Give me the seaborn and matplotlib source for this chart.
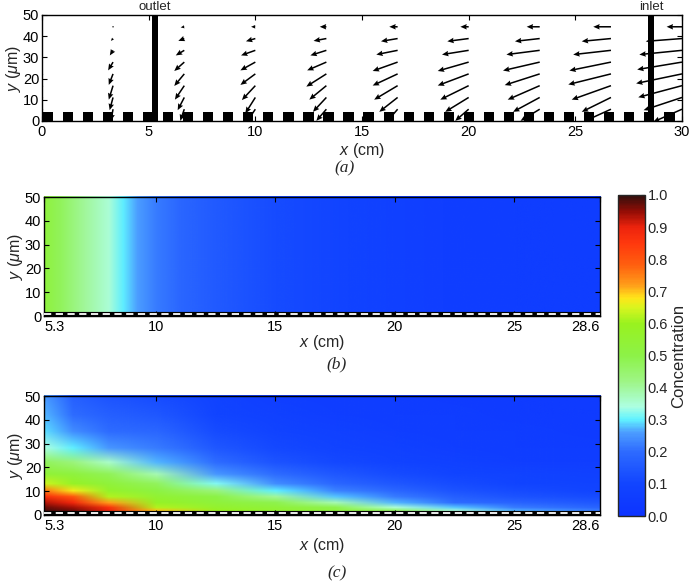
import numpy as np
import matplotlib
matplotlib.use('Agg')
import matplotlib.pyplot as plt
import seaborn as sns
from matplotlib.colors import LinearSegmentedColormap, Normalize
from matplotlib.image import NonUniformImage

# ---------------- data ----------------
# (a) velocity field: arrow tails on a grid, displacement per column (bottom row -> top row)
quiver_x = [0.0, 3.33, 6.67, 10.0, 13.33, 16.67, 20.0, 23.33, 26.67, 30.0]
quiver_y = [5.56, 11.11, 16.67, 22.22, 27.78, 33.33, 38.89, 44.44]
quiver_dx = [
    [-0.03, -0.03, -0.03, -0.03, -0.03, -0.03, -0.03, -0.03],
    [-0.10, -0.16, -0.20, -0.20, -0.23, -0.15, -0.10, -0.05],
    [-0.19, -0.31, -0.44, -0.47, -0.47, -0.40, -0.28, -0.17],
    [-0.40, -0.47, -0.63, -0.70, -0.70, -0.67, -0.44, -0.20],
    [-0.47, -0.63, -0.80, -0.94, -0.90, -0.75, -0.60, -0.31],
    [-0.47, -0.86, -1.10, -1.17, -1.17, -1.00, -0.78, -0.39],
    [-0.63, -1.10, -1.33, -1.45, -1.45, -1.25, -1.00, -0.39],
    [-0.90, -1.25, -1.50, -1.64, -1.72, -1.56, -1.16, -0.61],
    [-1.20, -1.37, -1.84, -2.00, -1.95, -1.77, -1.37, -0.83],
    [-1.35, -1.80, -2.05, -2.15, -2.10, -2.00, -1.70, -0.72],
]
quiver_dy = [
    [-1.5, -1.5, -1.5, -1.5, -1.2, -1.0, -0.6, -0.3],
    [-5.5, -6.0, -6.6, -5.2, -3.9, -2.4, -1.1, -0.3],
    [-5.5, -6.0, -6.6, -5.7, -4.2, -2.4, -1.1, -0.3],
    [-6.0, -7.5, -6.8, -5.2, -3.9, -2.4, -1.3, 0.0],
    [-5.5, -6.8, -6.6, -6.0, -3.9, -2.4, -1.1, 0.0],
    [-5.5, -6.8, -6.6, -5.5, -4.2, -2.0, -1.3, 0.0],
    [-5.5, -6.8, -6.6, -5.5, -4.2, -2.0, -1.3, 0.0],
    [-5.5, -6.8, -6.6, -5.3, -4.0, -2.0, -1.3, 0.0],
    [-5.5, -6.8, -6.6, -5.0, -4.0, -2.0, -1.3, 0.0],
    [-6.0, -6.0, -5.5, -4.5, -3.5, -2.0, -1.3, 0.0],
]
pore_start, pore_pitch, pore_count = 0.03, 0.94, 32
pore_width, pore_height = 0.48, 4.3
port_x = [5.3, 28.55]
port_names = ['outlet', 'inlet']

# (b) concentration profile along x (uniform in y)
b_x = [5.3, 6.0, 7.0, 8.0, 8.6, 9.2, 10.0, 11.0, 12.5, 15.0, 18.0, 22.0, 25.0, 28.6]
b_c = [0.52, 0.47, 0.40, 0.35, 0.30, 0.26, 0.22, 0.19, 0.16, 0.12, 0.09, 0.07, 0.06, 0.06]

# (c) concentration field: profiles c(y) at each x node
c_x = [5.3, 6.5, 8.0, 10.0, 12.5, 15.0, 17.5, 20.0, 22.5, 25.0, 28.6]
c_y = [0, 1.5, 3, 5, 7.5, 10, 13, 17, 22, 28, 35, 42, 50]
c_profiles = [
    [1.00, 0.99, 0.97, 0.93, 0.87, 0.76, 0.64, 0.54, 0.47, 0.34, 0.29, 0.27, 0.25],
    [0.99, 0.97, 0.94, 0.89, 0.80, 0.67, 0.58, 0.52, 0.43, 0.30, 0.24, 0.20, 0.17],
    [0.93, 0.90, 0.86, 0.72, 0.62, 0.57, 0.53, 0.48, 0.36, 0.25, 0.20, 0.17, 0.14],
    [0.80, 0.70, 0.62, 0.58, 0.55, 0.51, 0.47, 0.38, 0.27, 0.22, 0.19, 0.15, 0.12],
    [0.62, 0.59, 0.56, 0.53, 0.50, 0.43, 0.32, 0.25, 0.20, 0.15, 0.12, 0.10, 0.09],
    [0.58, 0.55, 0.53, 0.49, 0.40, 0.30, 0.24, 0.20, 0.14, 0.11, 0.09, 0.08, 0.07],
    [0.55, 0.52, 0.49, 0.38, 0.28, 0.23, 0.19, 0.15, 0.11, 0.09, 0.08, 0.07, 0.06],
    [0.52, 0.48, 0.35, 0.27, 0.22, 0.19, 0.15, 0.12, 0.09, 0.08, 0.07, 0.06, 0.06],
    [0.42, 0.35, 0.28, 0.20, 0.17, 0.14, 0.12, 0.10, 0.08, 0.07, 0.06, 0.06, 0.05],
    [0.33, 0.27, 0.22, 0.18, 0.14, 0.12, 0.10, 0.09, 0.07, 0.06, 0.06, 0.05, 0.05],
    [0.26, 0.22, 0.18, 0.15, 0.12, 0.10, 0.09, 0.08, 0.07, 0.06, 0.05, 0.05, 0.05],
]
x_ticks_bc = [5.3, 10, 15, 20, 25, 28.6]
x_ticklabels_bc = ['5.3', '10', '15', '20', '25', '28.6']
y_ticks = [0, 10, 20, 30, 40, 50]
cbar_ticks = [0.0, 0.1, 0.2, 0.3, 0.4, 0.5, 0.6, 0.7, 0.8, 0.9, 1.0]

# ---------------- style ----------------
sns.set_theme(style='ticks')
plt.rcParams['font.family'] = ['Liberation Sans', 'DejaVu Sans']
plt.rcParams['mathtext.fontset'] = 'custom'
plt.rcParams['mathtext.rm'] = 'Liberation Sans'
plt.rcParams['mathtext.it'] = 'Liberation Sans:italic'
plt.rcParams['mathtext.bf'] = 'Liberation Sans:bold'
plt.rcParams['axes.linewidth'] = 1.0

cmap = LinearSegmentedColormap.from_list('conc', [
    (0.00, (0.05, 0.20, 1.00)),
    (0.10, (0.07, 0.27, 1.00)),
    (0.20, (0.18, 0.42, 1.00)),
    (0.26, (0.30, 0.62, 1.00)),
    (0.30, (0.38, 0.95, 1.00)),
    (0.34, (0.68, 1.00, 0.88)),
    (0.42, (0.62, 0.96, 0.52)),
    (0.50, (0.55, 0.95, 0.28)),
    (0.60, (0.60, 0.95, 0.12)),
    (0.65, (0.85, 0.96, 0.12)),
    (0.68, (1.00, 0.90, 0.10)),
    (0.72, (1.00, 0.62, 0.10)),
    (0.78, (1.00, 0.38, 0.06)),
    (0.85, (1.00, 0.22, 0.05)),
    (0.90, (0.93, 0.14, 0.05)),
    (0.95, (0.58, 0.05, 0.02)),
    (1.00, (0.20, 0.06, 0.05)),
])
norm = Normalize(vmin=0, vmax=1)

W, H = 691, 584
fig = plt.figure(figsize=(W / 100, H / 100), dpi=100)

def px_axes(l, t, r, b):
    return fig.add_axes([l / W, 1 - b / H, (r - l) / W, (b - t) / H])

def style_axes(ax):
    ax.tick_params(direction='in', top=True, right=True, length=3.5, width=0.8,
                   labelsize=10.5, pad=2, colors='black')
    ax.tick_params(axis='x', pad=3)
    for s in ax.spines.values():
        s.set_color('black')
        s.set_linewidth(1.0)

label_kw = dict(fontsize=11.5)
ylab = r'$y$ ($\mu$m)'
xlab = r'$x$ (cm)'

# ---------------- (a) ----------------
axa = px_axes(42, 15, 682, 121)
X, Y = np.meshgrid(quiver_x, quiver_y)
U = np.array(quiver_dx).T
V = np.array(quiver_dy).T
axa.quiver(X, Y, U, V, angles='xy', scale_units='xy', scale=1, color='black',
           width=0.0024, headwidth=3.6, headlength=4.2, headaxislength=3.8, zorder=2)
pore_left = pore_start + pore_pitch * np.arange(pore_count)
axa.bar(pore_left, pore_height, width=pore_width, align='edge', color='black',
        linewidth=0, zorder=3)
axa.bar(port_x, 50, width=0.3, align='center', color='black', linewidth=0, zorder=4)
for px_, name in zip(port_x, port_names):
    axa.text(px_, 51, name, ha='center', va='bottom', fontsize=9.5)
axa.set_xlim(0, 30)
axa.set_ylim(0, 50)
axa.set_xticks([0, 5, 10, 15, 20, 25, 30])
axa.set_yticks(y_ticks)
style_axes(axa)
axa.set_ylabel(ylab, labelpad=0, **label_kw)
axa.set_xlabel(xlab, labelpad=1, **label_kw)
fig.text(345 / W, 1 - 168 / H, '(a)', ha='center', va='center',
         family='Liberation Serif', style='italic', fontsize=12.5)

# ---------------- (b) ----------------
axb = px_axes(44, 197, 600, 316)
im_b = NonUniformImage(axb, interpolation='bilinear', cmap=cmap, norm=norm,
                       extent=(5.3, 28.6, 0, 50))
im_b.set_data(b_x, [0, 50], np.vstack([b_c, b_c]))
axb.add_image(im_b)

# ---------------- (c) ----------------
axc = px_axes(44, 396, 600, 515)
im_c = NonUniformImage(axc, interpolation='bilinear', cmap=cmap, norm=norm,
                       extent=(5.3, 28.6, 0, 50))
im_c.set_data(c_x, c_y, np.array(c_profiles).T)
axc.add_image(im_c)

for ax, tag, ty, lp in [(axb, '(b)', 364, -1), (axc, '(c)', 573, 2)]:
    ax.axhline(0.85, color='black', lw=3.0, zorder=3)
    ax.axhline(0.85, color='white', lw=1.3, ls=(0, (4, 2.5)), zorder=4)
    ax.set_xlim(5.3, 28.6)
    ax.set_ylim(0, 50)
    ax.set_xticks(x_ticks_bc)
    ax.set_xticklabels(x_ticklabels_bc)
    ax.set_yticks(y_ticks)
    style_axes(ax)
    tl = ax.get_xticklabels()
    tl[0].set_horizontalalignment('left')
    tl[-1].set_horizontalalignment('right')
    ax.set_ylabel(ylab, labelpad=0, **label_kw)
    ax.set_xlabel(xlab, labelpad=lp, **label_kw)
    fig.text(337 / W, 1 - ty / H, tag, ha='center', va='center',
             family='Liberation Serif', style='italic', fontsize=12.5)

# ---------------- colorbar ----------------
cax = px_axes(618, 195, 645, 516)
cb = fig.colorbar(im_c, cax=cax, ticks=cbar_ticks)
cb.ax.set_yticklabels(['%.1f' % t for t in cbar_ticks])
cb.ax.tick_params(direction='in', length=3, width=0.8, labelsize=10.5, pad=2)
cb.outline.set_linewidth(1.0)
cb.set_label('Concentration', fontsize=12, labelpad=2)

fig.savefig('out.png', dpi=100)
